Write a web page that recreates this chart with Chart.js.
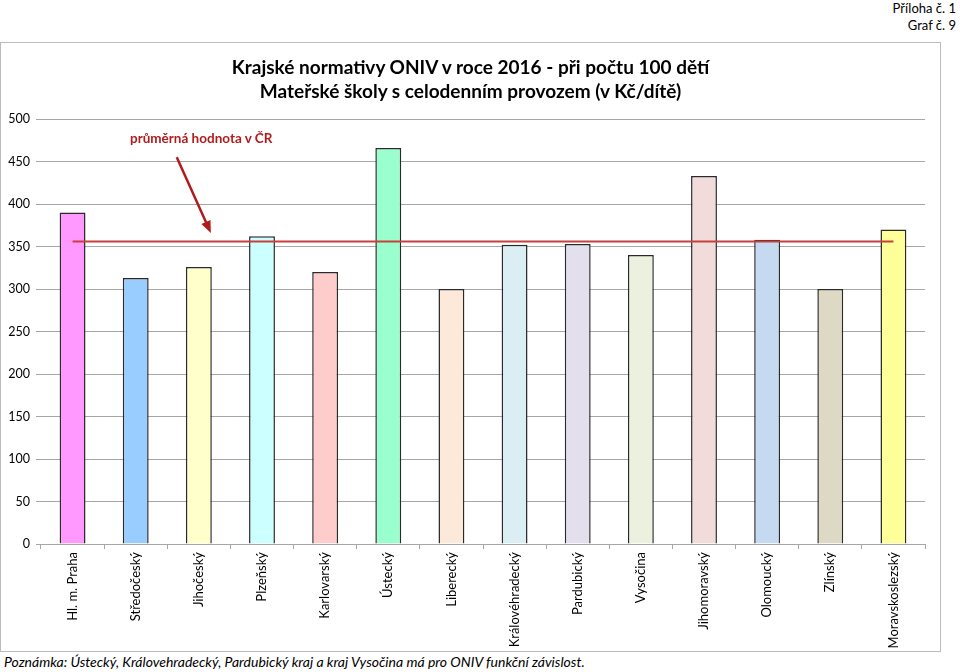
<!DOCTYPE html>
<html>
<head>
<meta charset="utf-8">
<script src="https://cdn.jsdelivr.net/npm/chart.js@4"></script>
<style>
  html, body { margin: 0; padding: 0; background: #fff; }
  body { width: 960px; height: 672px; position: relative; overflow: hidden; font-family: Lato, 'Open Sans', sans-serif; color: #000; }
  .corner { position: absolute; right: 4px; font-size: 13px; line-height: 16px; text-align: right; }
  #box { position: absolute; left: 0; top: 42px; width: 939px; height: 608px; border: 1px solid #bcbcbc; }
  #box canvas { position: absolute; left: 0; top: 0; }
  .title { position: absolute; left: 0; width: 941px; text-align: center; font-weight: bold; font-size: 19px; line-height: 24px; }
  #avgLabel { position: absolute; left: 130px; top: 130px; color: #b01c1c; font-weight: bold; font-size: 13.5px; white-space: nowrap; }
  #note { position: absolute; left: 4px; top: 653px; font-style: italic; font-size: 14px; line-height: 18px; white-space: nowrap; }
</style>
</head>
<body>
<div class="corner" style="top:0px">Příloha č. 1</div>
<div class="corner" style="top:17px">Graf č. 9</div>
<div id="box"><canvas id="chartCanvas" width="939" height="608"></canvas></div>
<div class="title" style="top:55px">Krajské normativy ONIV v roce 2016 - při počtu 100 dětí</div>
<div class="title" style="top:79px">Mateřské školy s celodenním provozem (v Kč/dítě)</div>
<div id="avgLabel">průměrná hodnota v ČR</div>
<div id="note">Poznámka: Ústecký, Královehradecký, Pardubický kraj a kraj Vysočina má pro ONIV funkční závislost.</div>

<script>
(function() {
  'use strict';

  var regions = ['Hl. m. Praha', 'Středočeský', 'Jihočeský', 'Plzeňský', 'Karlovarský', 'Ústecký', 'Liberecký',
    'Královéhradecký', 'Pardubický', 'Vysočina', 'Jihomoravský', 'Olomoucký', 'Zlínský', 'Moravskoslezský'];
  var normValues = [390, 313, 326, 362, 320, 466, 300, 352, 353, 340, 433, 358, 300, 370];
  var averageCR = 356;
  var barColors = ['#ff99ff', '#99ccff', '#ffffcc', '#ccffff', '#ffcccc', '#99ffcc', '#fde9d9',
    '#daeef3', '#e4dfec', '#ebf1de', '#f2dcdb', '#c5d9f1', '#ddd9c4', '#ffff99'];
  var yTicks = [0, 50, 100, 150, 200, 250, 300, 350, 400, 450, 500];

  // arrow pointing from the label down to the average line
  var arrowPlugin = {
    id: 'avgArrow',
    afterDatasetsDraw: function(chart) {
      var xs = chart.scales.x, ys = chart.scales.y, ctx = chart.ctx;
      var step = xs.getPixelForValue(1) - xs.getPixelForValue(0);
      var x0 = xs.getPixelForValue(1) + 0.65 * step, y0 = ys.getPixelForValue(455);
      var x1 = xs.getPixelForValue(2) + 0.19 * step, y1 = ys.getPixelForValue(366);
      var ang = Math.atan2(y1 - y0, x1 - x0);
      ctx.save();
      ctx.strokeStyle = '#b01c1c';
      ctx.fillStyle = '#b01c1c';
      ctx.lineWidth = 2.5;
      ctx.beginPath();
      ctx.moveTo(x0, y0);
      ctx.lineTo(x1 - 6 * Math.cos(ang), y1 - 6 * Math.sin(ang));
      ctx.stroke();
      ctx.beginPath();
      ctx.moveTo(x1, y1);
      ctx.lineTo(x1 - 12 * Math.cos(ang) + 5 * Math.sin(ang), y1 - 12 * Math.sin(ang) - 5 * Math.cos(ang));
      ctx.lineTo(x1 - 12 * Math.cos(ang) - 5 * Math.sin(ang), y1 - 12 * Math.sin(ang) + 5 * Math.cos(ang));
      ctx.closePath();
      ctx.fill();
      ctx.restore();
    }
  };

  var avgLine = regions.map(function() { return averageCR; });

  new Chart(document.getElementById('chartCanvas').getContext('2d'), {
    type: 'bar',
    data: {
      labels: regions,
      datasets: [{
        type: 'line',
        data: avgLine,
        borderColor: '#c8403c',
        borderWidth: 2,
        pointRadius: 0,
        order: 0
      }, {
        data: normValues,
        backgroundColor: barColors,
        borderColor: '#2a2a2a',
        borderWidth: 1.5,
        categoryPercentage: 1,
        barPercentage: 0.41,
        order: 1
      }]
    },
    options: {
      responsive: false,
      animation: false,
      layout: { padding: { top: 76, right: 15, left: 0, bottom: 0 } },
      plugins: { legend: { display: false }, title: { display: false }, tooltip: { enabled: false } },
      scales: {
        x: {
          grid: { drawOnChartArea: false, drawTicks: true, tickLength: 5, color: '#a6a6a6', offset: true },
          border: { color: '#a6a6a6' },
          ticks: { minRotation: 90, maxRotation: 90, autoSkip: false, color: '#000', padding: 3,
            font: { family: 'Lato', size: 13 } },
          afterFit: function(s) { s.height = 107; }
        },
        y: {
          min: 0, max: 500,
          afterBuildTicks: function(s) { s.ticks = yTicks.map(function(v) { return { value: v }; }); },
          grid: { color: '#a6a6a6', tickLength: 5 },
          border: { display: false },
          ticks: { color: '#000', padding: 6, font: { family: 'Lato', size: 12.5 } },
          afterFit: function(s) { s.width = 40; }
        }
      }
    },
    plugins: [arrowPlugin]
  });
})();
</script>
</body>
</html>
